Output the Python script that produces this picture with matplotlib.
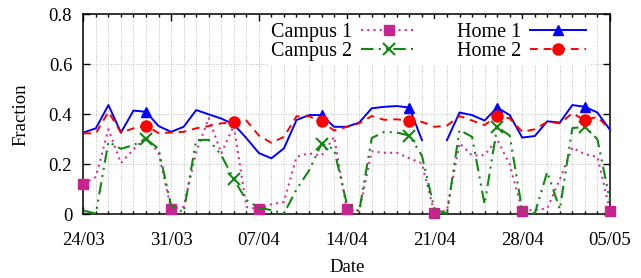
import numpy as np
import matplotlib
matplotlib.use("Agg")
import matplotlib.pyplot as plt
from matplotlib.ticker import MultipleLocator, FixedLocator

plt.rcParams['font.family'] = ['Liberation Serif', 'DejaVu Serif']

# ---- data (one value per day, 24/03 .. 05/05) ----
days = np.arange(43)
tick_days = [0, 7, 14, 21, 28, 35, 42]
tick_labels = ["24/03", "31/03", "07/04", "14/04", "21/04", "28/04", "05/05"]
y_ticks = [0, 0.2, 0.4, 0.6, 0.8]
y_tick_labels = ["0", "0.2", "0.4", "0.6", "0.8"]

campus1 = [0.12, 0.15, 0.34, 0.205, 0.26, 0.31, 0.245, 0.022, 0.03, 0.25,
           0.385, 0.244, 0.355, 0.03, 0.02, 0.04, 0.05, 0.23, 0.244, 0.235,
           0.31, 0.022, 0.012, 0.252, 0.246, 0.246, 0.224, 0.204, 0.005, 0.016,
           0.285, 0.235, 0.237, 0.30, 0.20, 0.015, 0.017, 0.024, 0.14, 0.267,
           0.24, 0.23, 0.015]
campus2 = [0.015, 0.003, 0.29, 0.262, 0.277, 0.302, 0.262, 0.035, 0.008, 0.297,
           0.298, 0.237, 0.14, 0.057, 0.026, 0.017, 0.003, 0.10, 0.175, 0.283,
           0.26, 0.044, 0.012, 0.305, 0.33, 0.327, 0.315, 0.235, 0.02, 0.003,
           0.337, 0.31, 0.04, 0.35, 0.315, 0.017, 0.003, 0.17, 0.02, 0.345,
           0.35, 0.30, 0.055]
home1 = [0.327, 0.344, 0.437, 0.327, 0.415, 0.41, 0.353, 0.33, 0.35, 0.417,
         0.40, 0.383, 0.36, 0.305, 0.245, 0.224, 0.264, 0.377, 0.397, 0.397,
         0.35, 0.35, 0.367, 0.424, 0.43, 0.433, 0.427, 0.297, np.nan, 0.297,
         0.407, 0.397, 0.375, 0.427, 0.397, 0.307, 0.313, 0.372, 0.367, 0.437,
         0.43, 0.407, 0.338]
home2 = [0.324, 0.324, 0.41, 0.327, 0.344, 0.355, 0.325, 0.327, 0.33, 0.344,
         0.353, 0.364, 0.368, 0.375, 0.315, 0.286, 0.31, 0.392, 0.392, 0.372,
         0.335, 0.35, 0.364, 0.393, 0.378, 0.38, 0.374, 0.37, 0.35, 0.355,
         0.393, 0.375, 0.357, 0.395, 0.384, 0.33, 0.34, 0.37, 0.364, 0.404,
         0.377, 0.39, 0.338]

campus1_marks = [0, 7, 14, 21, 28, 35, 42]
weekly_marks = [5, 12, 19, 26, 33, 40]
home1_marks = [5, 19, 26, 33, 40]

fig = plt.figure(figsize=(6.41, 2.78), dpi=100)
ax = fig.add_axes([0.130, 0.229, 0.8216, 0.7196])

ax.plot(days, campus1, color='#d6309a', linestyle=(0, (1, 2.0)), linewidth=1.5,
        marker='s', markersize=7, markevery=campus1_marks,
        markerfacecolor='#c8248f', markeredgecolor='#c8248f', label='Campus 1',
        clip_on=False, zorder=3)
ax.plot(days, campus2, color='#118811', linestyle=(0, (6, 2.5, 1, 2.5, 1, 2.5)),
        linewidth=1.5, marker='x', markersize=8, markeredgewidth=1.5,
        markevery=weekly_marks, label='Campus 2', clip_on=False, zorder=3)
ax.plot(days, home1, color='#0000ff', linestyle='-', linewidth=1.4,
        marker='^', markersize=7, markevery=home1_marks, label='Home 1',
        clip_on=False, zorder=3)
ax.plot(days, home2, color='#ff0000', linestyle=(0, (4, 3)), linewidth=1.4,
        marker='o', markersize=8, markevery=weekly_marks, label='Home 2',
        clip_on=False, zorder=3)

ax.set_xlim(0, 42)
ax.set_ylim(0, 0.8)
ax.xaxis.set_major_locator(FixedLocator(tick_days))
ax.set_xticklabels(tick_labels)
ax.xaxis.set_minor_locator(MultipleLocator(1))
ax.yaxis.set_major_locator(FixedLocator(y_ticks))
ax.set_yticklabels(y_tick_labels)

ax.tick_params(which='both', direction='in', top=True, right=True,
               labelsize=13.5, width=1.0)
ax.tick_params(which='major', length=5)
ax.tick_params(axis='x', which='major', pad=13)
ax.tick_params(axis='y', which='major', pad=8)
ax.tick_params(which='minor', length=2.5)
for s in ax.spines.values():
    s.set_linewidth(1.1)

ax.grid(True, which='both', axis='x', color='#a8a8a8', linestyle=(0, (1, 2)), linewidth=0.6)
ax.grid(True, which='major', axis='y', color='#a8a8a8', linestyle=(0, (1, 2)), linewidth=0.6)
ax.set_axisbelow(True)

ax.set_xlabel("Date", fontsize=13.5, labelpad=7)
ax.set_ylabel("Fraction", fontsize=13.5, labelpad=14)

leg = ax.legend(ncol=2, markerfirst=False, loc='upper right',
                bbox_to_anchor=(590 / 641, 1 - 19 / 278),
                bbox_transform=fig.transFigure,
                fontsize=14.5, handlelength=2.8, handletextpad=0.4,
                columnspacing=2.0, labelspacing=0.0, borderpad=0.2,
                borderaxespad=0, frameon=True, fancybox=False)
leg.get_frame().set_facecolor('white')
leg.get_frame().set_edgecolor('none')
leg.get_frame().set_alpha(1.0)
leg.set_zorder(5)

fig.savefig("out.png", dpi=100)
